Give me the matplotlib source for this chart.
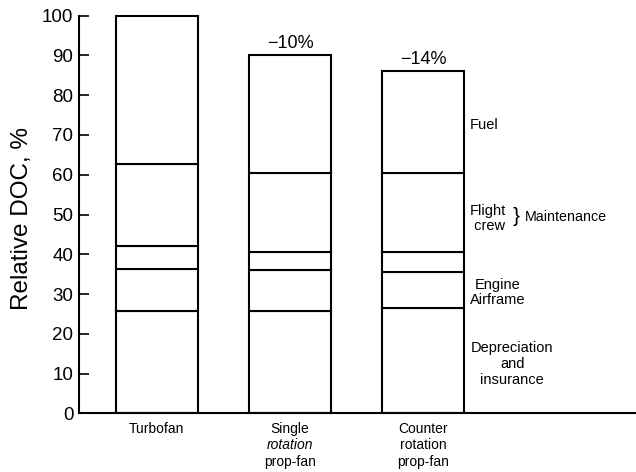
import numpy as np
import matplotlib
matplotlib.use('Agg')
import matplotlib.pyplot as plt
from matplotlib.transforms import blended_transform_factory

plt.rcParams['font.family'] = ['Liberation Sans', 'DejaVu Sans']

# cost components, bottom to top, for each aircraft
categories = ['Turbofan', 'Single rotation prop-fan', 'Counter rotation prop-fan']
depreciation = [25.8, 25.8, 26.6]
airframe = [10.4, 10.2, 9.0]
engine = [6.0, 4.6, 5.0]
crew_maint = [20.4, 19.8, 19.8]
fuel = [37.4, 29.6, 25.6]
changes = ['', '\u221210%', '\u221214%']

line1 = ['Turbofan', 'Single', 'Counter']
line2 = ['', 'rotation', 'rotation']
line3 = ['', 'prop-fan', 'prop-fan']
line2_italic = [False, True, False]

fig = plt.figure(figsize=(6.36, 4.72), dpi=100)
ax = fig.add_axes([0.124, 0.1244, 0.876, 0.8423])

x = np.arange(len(categories))
bottom = np.zeros(len(categories))
for seg in [depreciation, airframe, engine, crew_maint, fuel]:
    ax.bar(x, seg, width=0.615, bottom=bottom, color='white',
           edgecolor='black', linewidth=1.5, clip_on=False)
    bottom += np.array(seg)

for i, txt in enumerate(changes):
    if txt:
        ax.text(x[i], bottom[i] + 0.8, txt, ha='center', va='bottom', fontsize=13)

ax.set_xlim(-0.586, 3.6)
ax.set_ylim(0, 100)
ax.set_yticks(np.arange(0, 101, 10))
ax.set_xticks([])
ax.tick_params(axis='y', direction='in', length=7, width=1.2, labelsize=13.5, pad=4)
for s in ['top', 'right']:
    ax.spines[s].set_visible(False)
ax.spines['left'].set_linewidth(1.5)
ax.spines['bottom'].set_linewidth(1.5)
ax.set_ylabel('Relative DOC, %', fontsize=17.5)
ax.yaxis.set_label_coords(-0.082, 0.49)

# category labels under bars
tr = blended_transform_factory(ax.transData, ax.transAxes)
for i in range(len(categories)):
    ax.text(x[i], -0.04, line1[i], transform=tr, ha='center', va='center', fontsize=10)
    if line2[i]:
        ax.text(x[i], -0.081, line2[i], transform=tr, ha='center', va='center', fontsize=10,
                style='italic' if line2_italic[i] else 'normal')
        ax.text(x[i], -0.122, line3[i], transform=tr, ha='center', va='center', fontsize=10)

# component labels to the right
ax.text(2.353, 72.5, 'Fuel', ha='left', va='center', fontsize=10.5)
ax.text(2.353, 49.0, 'Flight\n crew', ha='left', va='center', fontsize=10.5, linespacing=1.15)
ax.text(2.70, 49.4, '}', ha='center', va='center', fontsize=15, fontweight='light')
ax.text(2.767, 49.4, 'Maintenance', ha='left', va='center', fontsize=10.3)
ax.text(2.56, 30.4, 'Engine\nAirframe', ha='center', va='center', fontsize=10.5, linespacing=1.15)
ax.text(2.67, 12.4, 'Depreciation\nand\ninsurance', ha='center', va='center',
        fontsize=10.5, linespacing=1.15)

fig.savefig('out.png', dpi=100)
